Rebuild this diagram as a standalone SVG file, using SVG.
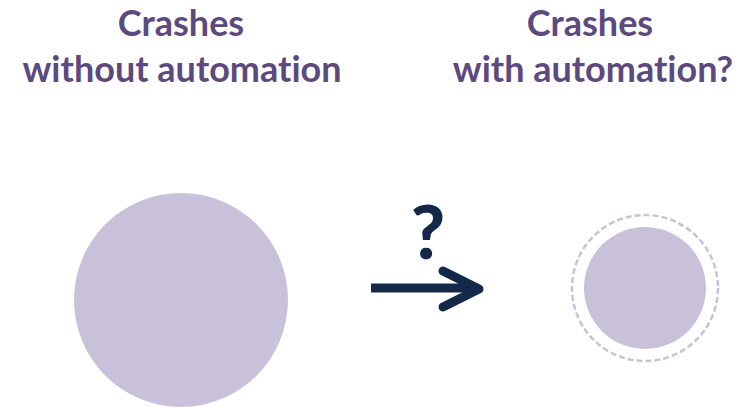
<svg xmlns="http://www.w3.org/2000/svg" width="745" height="407" viewBox="0 0 745 407">
<style>
.t{font-family:Lato,"Open Sans","Liberation Sans",sans-serif;font-weight:bold;font-size:36px;fill:#5C4A7F;text-anchor:middle;font-variant-ligatures:none}
.c{fill:#C9C1DA}
</style>
<rect width="745" height="407" fill="#fff"/>
<g id="title-left"><text class="t" x="181" y="36">Crashes</text><text class="t" x="182" y="82">without automation</text></g>
<g id="title-right"><text class="t" x="590" y="36">Crashes</text><text class="t" x="593" y="82">with automation?</text></g>
<g id="node-without"><circle class="c" cx="181" cy="300" r="107"/></g>
<g id="node-with"><circle cx="645" cy="288" r="73" fill="none" stroke="#C9C1DA" stroke-width="2.5" stroke-dasharray="6 3"/><circle class="c" cx="645" cy="288" r="61"/></g>
<g id="connectors">
<line x1="371" y1="288" x2="478" y2="288" stroke="#14284A" stroke-width="9"/>
<polyline points="443,271 479,289 443,307" fill="none" stroke="#14284A" stroke-width="9" stroke-linecap="round" stroke-linejoin="round"/>
<text x="428" y="259" font-family="Lato,'Open Sans','Liberation Sans',sans-serif" font-weight="900" font-size="74" fill="#14284A" text-anchor="middle">?</text>
</g>
</svg>
